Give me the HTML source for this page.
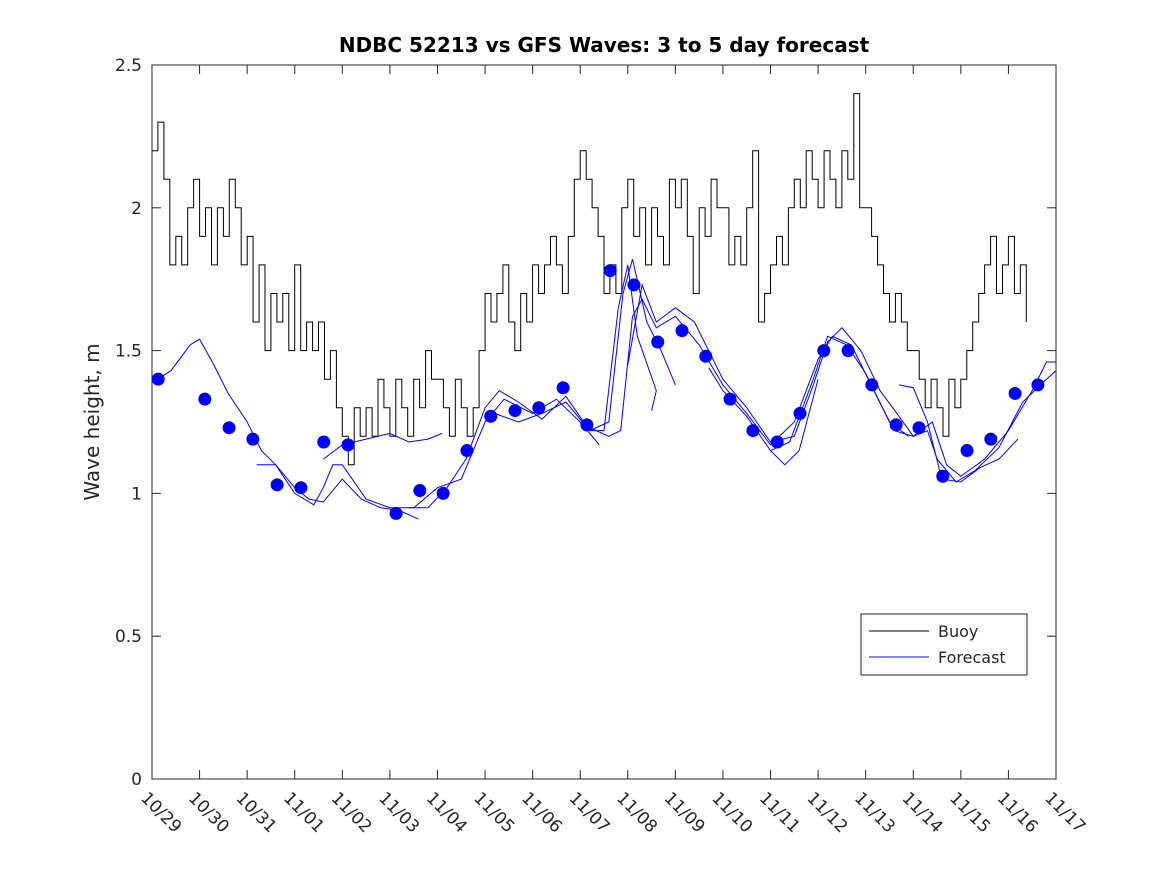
<!DOCTYPE html>
<html><head><meta charset="utf-8"><style>
body{margin:0;background:#fff;}
svg text{font-family:"DejaVu Sans","Liberation Sans",sans-serif;fill:#262626;}
</style></head><body>
<svg id="chart" width="1167" height="875" xmlns="http://www.w3.org/2000/svg">
<rect width="1167" height="875" fill="#fff"/>
<text x="604" y="52" text-anchor="middle" font-size="20" font-weight="bold" style="fill:#000">NDBC 52213 vs GFS Waves: 3 to 5 day forecast</text>
<text transform="translate(99,422) rotate(-90)" text-anchor="middle" font-size="20">Wave height, m</text>
<g id="axes"></g>
<g id="plot"></g>
<g>
<rect x="861" y="614" width="166" height="61" fill="#fff" stroke="#262626" stroke-width="1"/>
<line x1="869" y1="631" x2="929" y2="631" stroke="#000" stroke-width="1"/>
<text x="938" y="637" font-size="16">Buoy</text>
<line x1="869" y1="657" x2="929" y2="657" stroke="#00f" stroke-width="1"/>
<text x="938" y="663" font-size="16">Forecast</text>
</g>
</svg>
<script>
const xTickLabels=["10/29","10/30","10/31","11/01","11/02","11/03","11/04","11/05","11/06","11/07","11/08","11/09","11/10","11/11","11/12","11/13","11/14","11/15","11/16","11/17"];
const yTicks=[0,0.5,1,1.5,2,2.5];
const buoyStepDays=0.125;
const buoyValues=[2.2,2.3,2.1,1.8,1.9,1.8,2.0,2.1,
1.9,2.0,1.8,2.0,1.9,2.1,2.0,1.8,
1.9,1.6,1.8,1.5,1.7,1.6,1.7,1.5,
1.8,1.5,1.6,1.5,1.6,1.4,1.5,1.3,
1.2,1.1,1.3,1.2,1.3,1.2,1.4,1.3,
1.2,1.4,1.3,1.2,1.4,1.3,1.5,1.4,
1.4,1.3,1.2,1.4,1.3,1.2,1.3,1.5,
1.7,1.6,1.7,1.8,1.6,1.5,1.7,1.6,
1.8,1.7,1.8,1.9,1.8,1.7,1.9,2.1,
2.2,2.1,2.0,1.9,1.7,1.8,1.7,2.0,
2.1,1.9,2.0,1.8,2.0,1.9,1.8,2.1,
2.0,2.1,1.9,1.7,2.0,1.9,2.1,2.0,
2.0,1.8,1.9,1.8,2.0,2.2,1.6,1.7,
1.8,1.9,1.8,2.0,2.1,2.0,2.2,2.1,
2.0,2.2,2.1,2.0,2.2,2.1,2.4,2.0,
2.0,1.9,1.8,1.7,1.6,1.7,1.6,1.5,
1.5,1.4,1.3,1.4,1.3,1.2,1.4,1.3,
1.4,1.5,1.6,1.7,1.8,1.9,1.7,1.8,
1.9,1.7,1.8,1.6];
const dotDays=[0.13,1.11,1.62,2.12,2.63,3.13,3.61,4.12,5.13,5.63,6.12,6.62,7.12,7.63,8.13,8.64,9.14,9.63,10.13,10.63,11.14,11.64,12.15,12.63,13.14,13.62,14.12,14.63,15.13,15.64,16.12,16.62,17.13,17.63,18.14,18.62];
const dotValues=[1.40,1.33,1.23,1.19,1.03,1.02,1.18,1.17,0.93,1.01,1.00,1.15,1.27,1.29,1.30,1.37,1.24,1.78,1.73,1.53,1.57,1.48,1.33,1.22,1.18,1.28,1.50,1.50,1.38,1.24,1.23,1.06,1.15,1.19,1.35,1.38];
const fcA_days=[0.13,0.4,0.8,1.0,1.3,1.6,2.0,2.3,2.6,3.0,3.3,3.6,4.0,4.4,4.8,5.2,5.6];
const fcA_vals=[1.40,1.43,1.52,1.54,1.45,1.35,1.25,1.15,1.10,1.02,0.98,0.97,1.05,0.98,0.95,0.94,0.91];
const fcB_days=[3.6,4.0,4.5,5.0,5.4,5.8,6.1];
const fcB_vals=[1.12,1.17,1.19,1.21,1.18,1.19,1.21];
const fcC_days=[2.2,2.6,3.0,3.4,3.6,3.8,4.0,4.5,5.0,5.5,6.0,6.5,7.0,7.4,8.0,8.5,9.0,9.4];
const fcC_vals=[1.10,1.10,1.00,0.96,1.02,1.10,1.10,0.98,0.95,0.95,1.02,1.05,1.25,1.33,1.28,1.33,1.25,1.17];
const fcD_days=[5.4,5.8,6.2,6.6,7.0,7.3,7.7,8.2,8.7,9.2,9.6,9.9,10.1,10.4,10.7,11.0];
const fcD_vals=[0.95,0.95,1.02,1.12,1.30,1.36,1.32,1.26,1.34,1.22,1.25,1.70,1.82,1.60,1.50,1.38];
const fcE_days=[7.2,7.7,8.2,8.7,9.2,9.5,9.8,10.0,10.2,10.6,10.5];
const fcE_vals=[1.28,1.25,1.28,1.32,1.22,1.22,1.65,1.80,1.55,1.36,1.29];
const fcF_days=[9.2,9.6,9.85,10.1,10.3,10.6,11.0,11.5,12.0,12.5,13.0,13.5,14.0,14.3,14.7,15.2,15.6,16.0,16.3,16.5,16.9,17.3,17.8,18.3,18.8,19.0];
const fcF_vals=[1.23,1.20,1.22,1.62,1.68,1.58,1.62,1.52,1.38,1.28,1.17,1.25,1.47,1.55,1.52,1.35,1.22,1.20,1.22,1.12,1.04,1.08,1.16,1.32,1.40,1.43];
const fcG_days=[10.0,10.3,10.6,11.0,11.4,12.0,12.5,13.0,13.5,13.9,14.2,14.5,14.9,15.3,15.7,16.0,16.4,16.7,17.0,17.5,18.0,18.5,18.8,19.0];
const fcG_vals=[1.45,1.73,1.60,1.65,1.60,1.40,1.30,1.18,1.20,1.38,1.53,1.58,1.50,1.36,1.27,1.20,1.25,1.10,1.06,1.12,1.22,1.36,1.46,1.46];
const fcH_days=[11.7,12.0,12.5,13.0,13.3,13.6,14.0];
const fcH_vals=[1.44,1.36,1.27,1.15,1.10,1.15,1.40];
const fcI_days=[15.7,16.0,16.3,16.6,17.0,17.4,17.8,18.2];
const fcI_vals=[1.38,1.37,1.25,1.05,1.04,1.09,1.12,1.19];
const fcJ_days=[13.0,13.4,13.9,14.2,14.6,15.0,15.5,15.9];
const fcJ_vals=[1.15,1.18,1.40,1.55,1.52,1.42,1.25,1.20];

const X0=152,X1=1056,Y0=779,Y1=65;
const xs=d=>X0+(X1-X0)*d/19;
const ys=v=>Y0-(Y0-Y1)*v/2.5;
const NS="http://www.w3.org/2000/svg";
function mk(tag,attrs,parent){const e=document.createElementNS(NS,tag);for(const k in attrs)e.setAttribute(k,attrs[k]);parent.appendChild(e);return e;}
const ax=document.getElementById('axes'),pl=document.getElementById('plot');
const frame=mk('rect',{x:X0,y:Y1,width:X1-X0,height:Y0-Y1,fill:'#fff',stroke:'#262626','stroke-width':1},ax);


yTicks.forEach(v=>{
  const y=ys(v);
  mk('line',{x1:X0,y1:y,x2:X0+9,y2:y,stroke:'#262626'},ax);
  mk('line',{x1:X1,y1:y,x2:X1-9,y2:y,stroke:'#262626'},ax);
  const t=mk('text',{x:X0-10,y:y+6,'text-anchor':'end','font-size':17},ax);
  t.textContent=String(v);
  
  
});
xTickLabels.forEach((lab,i)=>{
  const x=xs(i);
  mk('line',{x1:x,y1:Y0,x2:x,y2:Y0-9,stroke:'#262626'},ax);
  mk('line',{x1:x,y1:Y1,x2:x,y2:Y1+9,stroke:'#262626'},ax);
  const t=mk('text',{transform:`translate(${x-12},${Y0+20}) rotate(45)`,'font-size':17},ax);
  t.textContent=lab;
  
  
});
let p='';
buoyValues.forEach((v,i)=>{
  const x=xs(i*buoyStepDays).toFixed(1),y=ys(v).toFixed(1);
  if(i===0){p+='M'+x+','+y;}else{p+='L'+x+','+ys(buoyValues[i-1]).toFixed(1)+'L'+x+','+y;}
});
const bl=mk('path',{d:p,fill:'none',stroke:'#000','stroke-width':1},pl);


const fcs=[[fcA_days,fcA_vals],[fcB_days,fcB_vals],[fcC_days,fcC_vals],[fcD_days,fcD_vals],[fcE_days,fcE_vals],[fcF_days,fcF_vals],[fcG_days,fcG_vals],[fcH_days,fcH_vals],[fcI_days,fcI_vals],[fcJ_days,fcJ_vals]];
fcs.forEach(([d,v])=>{
  let q='';d.forEach((dd,i)=>{q+=(i?'L':'M')+xs(dd).toFixed(1)+','+ys(v[i]).toFixed(1);});
  const l=mk('path',{d:q,fill:'none',stroke:'#00f','stroke-width':1},pl);
  
  
});
dotDays.forEach((d,i)=>{
  const c=mk('circle',{cx:xs(d),cy:ys(dotValues[i]),r:6.5,fill:'#00f'},pl);
  
  
});
</script>
</body></html>
